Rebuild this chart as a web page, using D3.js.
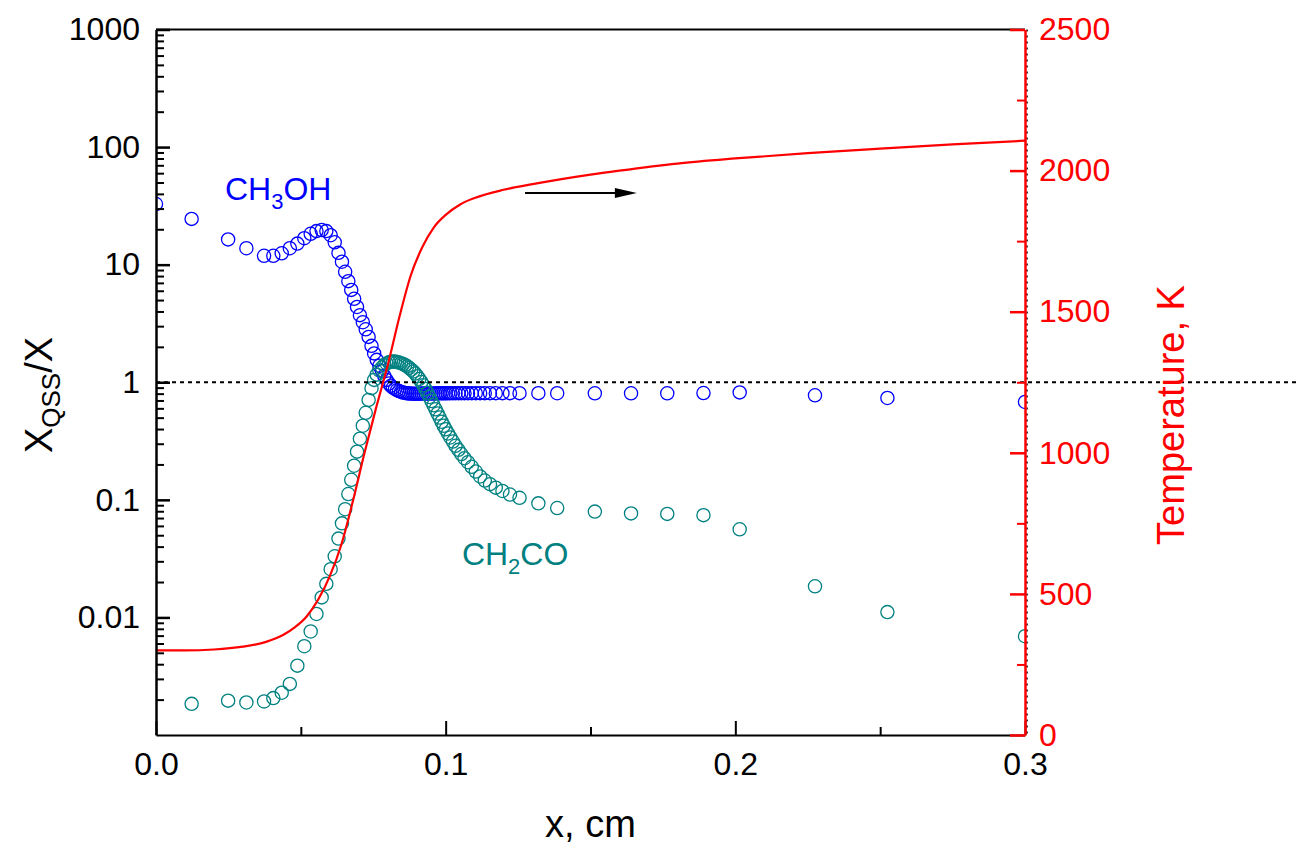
<!DOCTYPE html>
<html>
<head>
<meta charset="utf-8">
<script src="https://cdn.jsdelivr.net/npm/d3@7"></script>
<style>
  html, body { margin: 0; padding: 0; background: #fff; }
  svg { display: block; font-family: "Liberation Sans", Arial, Helvetica, sans-serif; }
</style>
</head>
<body>
<svg id="chart" width="1296" height="848"></svg>
<script>
// Grid positions along the flame (cm)
const xMesh = [
  0, 0.0123, 0.0249, 0.0312, 0.0373, 0.0405, 0.0434, 0.0462, 0.0488, 0.0512,
  0.0534, 0.0554, 0.0572, 0.0588, 0.0603, 0.0617, 0.0630, 0.0642, 0.0653, 0.0664,
  0.0674, 0.0684, 0.0694, 0.0704, 0.0714, 0.0724, 0.0734, 0.0744, 0.0753, 0.0762,
  0.0771, 0.0780, 0.0788, 0.0796, 0.0804, 0.0811, 0.0818, 0.0825, 0.0832, 0.0839,
  0.0846, 0.0853, 0.0860, 0.0867, 0.0874, 0.0881, 0.0888, 0.0895, 0.0902, 0.0909,
  0.0916, 0.0923, 0.0930, 0.0937, 0.0944, 0.0951, 0.0958, 0.0965, 0.0972, 0.0979,
  0.0986, 0.0993, 0.1000, 0.1008, 0.1016, 0.1025, 0.1034, 0.1044, 0.1054, 0.1065,
  0.1077, 0.1090, 0.1104, 0.1119, 0.1135, 0.1153, 0.1173, 0.1196, 0.1222, 0.1255,
  0.1320, 0.1385, 0.1515, 0.1640, 0.1765, 0.1890, 0.2015, 0.2275, 0.2525, 0.3000
];

// X_QSS / X for CH3OH at each grid point
const ch3ohRatio = [
  32.8, 24.5, 16.4, 13.8, 11.9, 11.9, 12.5, 13.8, 15.1, 16.8,
  18.3, 19.3, 19.7, 19.3, 17.8, 15.5, 12.6, 10.6, 8.7, 7.24,
  6.1, 5.13, 4.37, 3.72, 3.24, 2.82, 2.43, 2.04, 1.76, 1.55,
  1.38, 1.245, 1.135, 1.047, 0.977, 0.933, 0.902, 0.877, 0.857, 0.841,
  0.828, 0.818, 0.811, 0.805, 0.802, 0.801, 0.800, 0.800, 0.800, 0.800,
  0.801, 0.801, 0.802, 0.802, 0.803, 0.803, 0.804, 0.804, 0.805, 0.805,
  0.805, 0.806, 0.806, 0.806, 0.807, 0.807, 0.807, 0.808, 0.808, 0.808,
  0.808, 0.808, 0.808, 0.808, 0.808, 0.808, 0.808, 0.808, 0.808, 0.808,
  0.808, 0.807, 0.806, 0.806, 0.806, 0.810, 0.820, 0.775, 0.735, 0.680
];

// X_QSS / X for CH2CO at each grid point (null: below the axis range)
const ch2coRatio = [
  null, 0.00184, 0.00196, 0.00189, 0.00193, 0.00206, 0.00229, 0.00272, 0.00389, 0.00569,
  0.00759, 0.0107, 0.0148, 0.0193, 0.0257, 0.0331, 0.0468, 0.0631, 0.0832, 0.112,
  0.148, 0.195, 0.257, 0.331, 0.427, 0.550, 0.708, 0.891, 1.047, 1.161,
  1.259, 1.334, 1.396, 1.445, 1.479, 1.496, 1.503, 1.500, 1.489, 1.472,
  1.452, 1.429, 1.400, 1.365, 1.324, 1.279, 1.236, 1.186, 1.127, 1.067,
  1.005, 0.942, 0.877, 0.813, 0.750, 0.692, 0.638, 0.589, 0.543, 0.501,
  0.462, 0.427, 0.398, 0.367, 0.339, 0.313, 0.288, 0.266, 0.245, 0.226,
  0.209, 0.191, 0.174, 0.158, 0.146, 0.136, 0.127, 0.119, 0.111, 0.104,
  0.0933, 0.0851, 0.0794, 0.0767, 0.0759, 0.0741, 0.0562, 0.0184, 0.0111, 0.00692
];

// Temperature profile
const tempX = [
  0.000, 0.010, 0.020, 0.030, 0.038, 0.044, 0.048, 0.052, 0.056, 0.060,
  0.064, 0.068, 0.072, 0.076, 0.080, 0.084, 0.088, 0.092, 0.096, 0.100,
  0.105, 0.110, 0.120, 0.130, 0.140, 0.150, 0.160, 0.180, 0.200, 0.225,
  0.250, 0.275, 0.300
];
const tempK = [
  300, 300, 303, 313, 330, 355, 382, 420, 480, 563,
  675, 830, 1000, 1160, 1310, 1480, 1630, 1730, 1800, 1843,
  1880, 1903, 1932, 1952, 1970, 1986, 2000, 2025, 2043, 2062,
  2078, 2093, 2106
];

// Axis ticks
const xTicks = [0, 0.1, 0.2, 0.3];
const xMinorTicks = [0.05, 0.15, 0.25];
const yTicks = [1000, 100, 10, 1, 0.1, 0.01];
const yTickLabels = ["1000", "100", "10", "1", "0.1", "0.01"];
const tTicks = [0, 500, 1000, 1500, 2000, 2500];
const tMinorTicks = [250, 750, 1250, 1750, 2250];

const W = 1296, H = 848;
const plot = { left: 156, right: 1025, top: 29.5, bottom: 735 };
const BLUE = "#0000ff", TEAL = "#008080", RED = "#ff0000";
const tickFont = 32, titleFont = 38;

const svg = d3.select("#chart");

const x = d3.scaleLinear().domain([0, 0.3]).range([plot.left, plot.right]);
const y = d3.scaleLog().domain([0.001, 1000]).range([plot.bottom, plot.top]);
const yT = d3.scaleLinear().domain([0, 2500]).range([plot.bottom, plot.top]);

svg.append("defs").append("clipPath").attr("id", "plot-clip")
  .append("rect")
  .attr("x", plot.left).attr("y", plot.top)
  .attr("width", plot.right - plot.left).attr("height", plot.bottom - plot.top);

// Symbol series
const marks = svg.append("g").attr("clip-path", "url(#plot-clip)");
function drawCircles(values, color) {
  marks.append("g")
    .selectAll("circle")
    .data(d3.zip(xMesh, values).filter(d => d[1] != null))
    .join("circle")
    .attr("cx", d => x(d[0]))
    .attr("cy", d => y(d[1]))
    .attr("r", 6.6)
    .attr("fill", "none")
    .attr("stroke", color)
    .attr("stroke-width", 1.3);
}
drawCircles(ch3ohRatio, BLUE);
drawCircles(ch2coRatio, TEAL);

// Reference level X_QSS / X = 1
svg.append("line")
  .attr("x1", x(0)).attr("x2", W)
  .attr("y1", y(1)).attr("y2", y(1))
  .attr("stroke", "#000").attr("stroke-width", 2)
  .attr("stroke-dasharray", "4,4");

// Temperature curve
svg.append("path")
  .datum(d3.zip(tempX, tempK))
  .attr("fill", "none")
  .attr("stroke", RED)
  .attr("stroke-width", 2.2)
  .attr("d", d3.line().x(d => x(d[0])).y(d => yT(d[1])).curve(d3.curveMonotoneX));

// Frame: top edge and dotted right edge
svg.append("line")
  .attr("x1", plot.left).attr("x2", plot.right)
  .attr("y1", plot.top).attr("y2", plot.top)
  .attr("stroke", "#000").attr("stroke-width", 2);
svg.append("line")
  .attr("x1", plot.right + 2).attr("x2", plot.right + 2)
  .attr("y1", plot.top).attr("y2", plot.bottom)
  .attr("stroke", "#000").attr("stroke-width", 1.5)
  .attr("stroke-dasharray", "2,4");

function styleAxis(g, color, width) {
  g.select(".domain").attr("stroke", color).attr("stroke-width", width);
  g.selectAll(".tick line").attr("stroke", color).attr("stroke-width", width);
  g.selectAll(".tick text")
    .attr("fill", color)
    .attr("font-size", tickFont)
    .attr("font-family", '"Liberation Sans", Arial, sans-serif');
}

// Bottom axis
const gx = svg.append("g").attr("transform", `translate(0,${plot.bottom})`)
  .call(d3.axisBottom(x).tickValues(xTicks).tickSize(-14).tickSizeOuter(0)
    .tickPadding(17).tickFormat(d3.format(".1f")));
styleAxis(gx, "#000", 2);
const gxm = svg.append("g").attr("transform", `translate(0,${plot.bottom})`)
  .call(d3.axisBottom(x).tickValues(xMinorTicks).tickSize(-8).tickSizeOuter(0).tickFormat(""));
styleAxis(gxm, "#000", 2);
gxm.select(".domain").remove();

// Left log axis
const gy = svg.append("g").attr("transform", `translate(${plot.left},0)`)
  .call(d3.axisLeft(y).tickValues(yTicks).tickSize(-14).tickSizeOuter(0)
    .tickPadding(16).tickFormat((d, i) => yTickLabels[i]));
styleAxis(gy, "#000", 2.5);
const yMinor = y.ticks().filter(v => Math.abs(Math.log10(v) - Math.round(Math.log10(v))) > 1e-6);
const gym = svg.append("g").attr("transform", `translate(${plot.left},0)`)
  .call(d3.axisLeft(y).tickValues(yMinor).tickSize(-8).tickSizeOuter(0).tickFormat(""));
styleAxis(gym, "#000", 2);
gym.select(".domain").remove();

// Right temperature axis
const gt = svg.append("g").attr("transform", `translate(${plot.right},0)`)
  .call(d3.axisRight(yT).tickValues(tTicks).tickSize(-15).tickSizeOuter(0)
    .tickPadding(14).tickFormat(d3.format("d")));
styleAxis(gt, RED, 2.5);
const gtm = svg.append("g").attr("transform", `translate(${plot.right},0)`)
  .call(d3.axisRight(yT).tickValues(tMinorTicks).tickSize(-8).tickSizeOuter(0).tickFormat(""));
styleAxis(gtm, RED, 2);
gtm.select(".domain").remove();

// Axis titles
svg.append("text")
  .attr("x", (plot.left + plot.right) / 2).attr("y", 837)
  .attr("text-anchor", "middle").attr("font-size", titleFont).attr("fill", "#000")
  .text("x, cm");

const yTitle = svg.append("text")
  .attr("transform", "translate(52,395) rotate(-90)")
  .attr("text-anchor", "middle").attr("font-size", titleFont).attr("fill", "#000");
yTitle.append("tspan").text("X");
yTitle.append("tspan").attr("font-size", 26).attr("dy", 8).text("QSS");
yTitle.append("tspan").attr("dy", -8).text("/X");

svg.append("text")
  .attr("transform", "translate(1184,415) rotate(-90)")
  .attr("text-anchor", "middle").attr("font-size", titleFont).attr("fill", RED)
  .text("Temperature, K");

// Species labels
const lab1 = svg.append("text")
  .attr("x", x(0.0238)).attr("y", y(35.5))
  .attr("font-size", 32).attr("fill", BLUE);
lab1.append("tspan").text("CH");
lab1.append("tspan").attr("font-size", 22).attr("dy", 9).text("3");
lab1.append("tspan").attr("dy", -9).text("OH");

const lab2 = svg.append("text")
  .attr("x", x(0.1056)).attr("y", y(0.0279))
  .attr("font-size", 32).attr("fill", TEAL);
lab2.append("tspan").text("CH");
lab2.append("tspan").attr("font-size", 22).attr("dy", 9).text("2");
lab2.append("tspan").attr("dy", -9).text("CO");

// Arrow pointing to the temperature axis
const arrowY = yT(1921);
const arrowX0 = x(0.1274), arrowX1 = x(0.166);
svg.append("line")
  .attr("x1", arrowX0).attr("x2", arrowX1 - 18)
  .attr("y1", arrowY).attr("y2", arrowY)
  .attr("stroke", "#000").attr("stroke-width", 2);
svg.append("path")
  .attr("d", `M${arrowX1},${arrowY} L${arrowX1 - 22},${arrowY - 5} L${arrowX1 - 22},${arrowY + 5} Z`)
  .attr("fill", "#000");
</script>
</body>
</html>
